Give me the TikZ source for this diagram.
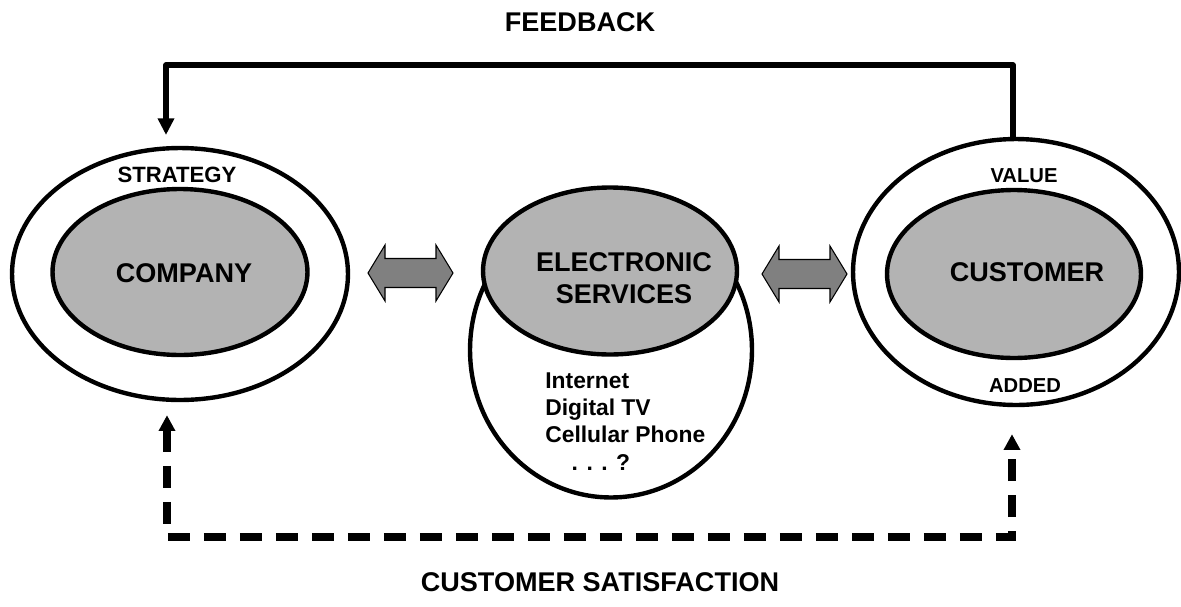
\documentclass[tikz,border=0pt]{standalone}
\usepackage{fontspec}
\setmainfont{Liberation Sans}
\usetikzlibrary{shapes.geometric,arrows.meta,calc}

\definecolor{coregray}{RGB}{179,179,179}
\definecolor{linkgray}{RGB}{128,128,128}

\tikzset{
	ring/.style={ellipse, draw, line width=2.5pt, fill=white, inner sep=0pt},
	core/.style={ellipse, draw, line width=2.5pt, fill=coregray, inner sep=0pt},
	link/.style={draw, line width=0.6pt, fill=linkgray, line join=miter},
	twoway/.pic={
		\draw[link] (-42.5,0) -- (-25.5,-28) -- (-25.5,-14.5) -- (25.5,-14.5) -- (25.5,-28)
			-- (42.5,0) -- (25.5,28) -- (25.5,14.5) -- (-25.5,14.5) -- (-25.5,28) -- cycle;
	},
	big/.style={font=\fontsize{15.4}{18}\selectfont\bfseries},
	small/.style={font=\fontsize{12}{14}\selectfont\bfseries},
	feedline/.style={line width=3pt, line join=round, -{Triangle[width=9pt,length=9.5pt]}},
	satline/.style={line width=4pt, dash pattern=on 0.44cm off 0.28cm,
		{Triangle[width=9pt,length=9pt]}-{Triangle[width=9pt,length=9pt]}}
}

\begin{document}
\begin{tikzpicture}[x=0.02cm,y=-0.02cm]
		\useasboundingbox (0,0) rectangle (1181,606);
		
		% company side
		\node[ring, minimum width=6.72cm, minimum height=5.04cm] (compout) at (180,274) {};
		\node[core, minimum width=5.1cm, minimum height=3.32cm] (compin) at (180,272) {};
		\node[small, font=\fontsize{12.6}{14}\selectfont\bfseries] (strategy) at (177,175) {STRATEGY};
		\node[big] (company) at (184,273) {COMPANY};
		
		% electronic services
		\node[ring, minimum width=5.64cm, minimum height=5.9cm] (esbase) at (611,350) {};
		\node[core, minimum width=5.08cm, minimum height=3.34cm] (escore) at (610,271) {};
		\node[big, align=center] (es) at (624,278) {ELECTRONIC\\SERVICES};
		\node[font=\fontsize{13}{15.6}\selectfont\bfseries, align=left, anchor=north west, inner sep=0pt]
			(eslist) at (545,372) {Internet\\Digital TV\\Cellular Phone\\\hspace{15pt}. . . ?};
		
		% customer side
		\node[ring, minimum width=6.52cm, minimum height=5.32cm] (custout) at (1016,272) {};
		\node[core, minimum width=5.08cm, minimum height=3.36cm] (custin) at (1014,274) {};
		\node[small, font=\fontsize{11.5}{14}\selectfont\bfseries] (value) at (1024,176) {VALUE};
		\node[small, font=\fontsize{11.5}{14}\selectfont\bfseries] (added) at (1025,386) {ADDED};
		\node[big] (customer) at (1027,272) {CUSTOMER};
		
		% exchanges between the three
		\pic (linkL) at (410.5,273) {twoway};
		\pic (linkR) at (804.5,274) {twoway};
		
		% loops
		\node[big] (feedback) at (580,22) {FEEDBACK};
		\node[big] (satisfaction) at (600,582) {CUSTOMER SATISFACTION};
		
		\coordinate (fbin) at (166,135);
		\draw[feedline] (custout.north -| 1013,0) -- (1013,65) -| (fbin);
		\draw[satline] ($(compout.south)+(-13,13)$) -- (167,537) -- (1012,537) -- ($(custout.south)+(-4,27)$);
		
\end{tikzpicture}
\end{document}
